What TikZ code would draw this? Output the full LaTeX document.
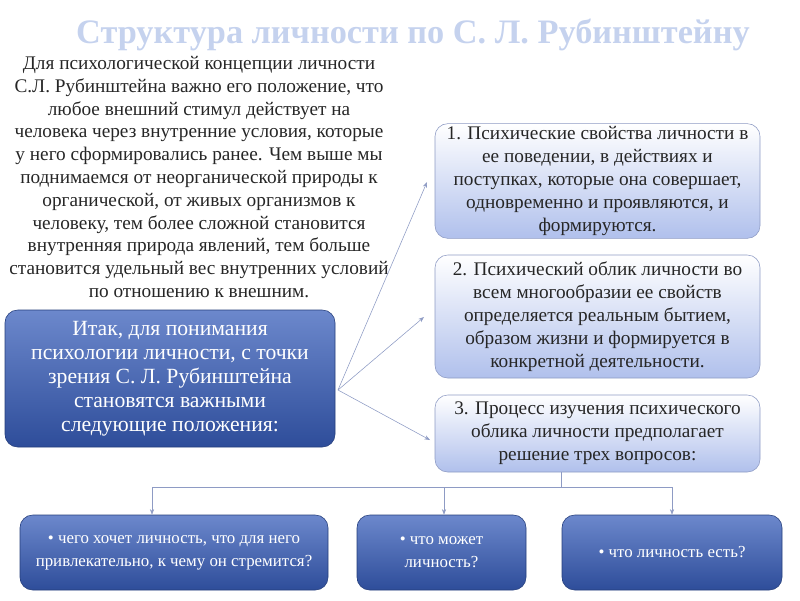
\documentclass[tikz,border=0pt]{standalone}
\usepackage{fontspec}
\setmainfont{Liberation Serif}
\usetikzlibrary{arrows.meta}
\definecolor{titleblue}{HTML}{C5D2EE}
\definecolor{darktop}{HTML}{6C88CC}
\definecolor{darkbot}{HTML}{2E4D9A}
\definecolor{lightbot}{HTML}{B0C0EC}
\definecolor{lineblue}{HTML}{8E9BC4}
\begin{document}
\begin{tikzpicture}
     [x=0.025cm, y=-0.025cm,
     darkbox/.style={rectangle, rounded corners=9pt, draw=darkbot!80!black, top color=darktop, bottom color=darkbot, text=white, align=center, font=\fontsize{15.4}{17}\selectfont, inner sep=2pt},
     lightbox/.style={rectangle, rounded corners=9pt, draw=lineblue, top color=white, bottom color=lightbot, text=black!85, align=center, font=\fontsize{13.7}{16.3}\selectfont, inner sep=2pt},
     smallbox/.style={darkbox, font=\fontsize{12}{16.5}\selectfont},
     link/.style={draw=lineblue, thin, -{Stealth[length=4pt,width=3pt]}},
     ]
  \useasboundingbox (0,0) rectangle (800,600);
  % title and paragraph
  \node[text=titleblue, font=\bfseries\fontsize{24.4}{28}\selectfont] (title) at (413,35) {Структура личности по С. Л. Рубинштейну};
  \node[align=center, text=black!85, font=\fontsize{13.7}{16.2}\selectfont] (intro) at (199,177) {Для психологической концепции личности\\С.Л. Рубинштейна важно его положение, что\\любое внешний стимул действует на\\человека через внутренние условия, которые\\у него сформировались ранее. Чем выше мы\\поднимаемся от неорганической природы к\\органической, от живых организмов к\\человеку, тем более сложной становится\\внутренняя природа явлений, тем больше\\становится удельный вес внутренних условий\\по отношению к внешним.};
  % main boxes
  \node[darkbox, minimum width=330*0.025cm, minimum height=137*0.025cm] (main) at (170,378.5) {Итак, для понимания\\психологии личности, с точки\\зрения С. Л. Рубинштейна\\становятся важными\\следующие положения:};
  \node[lightbox, minimum width=325*0.025cm, minimum height=112*0.025cm] (p1) at (597.5,181) {1. Психические свойства личности в\\ее поведении, в действиях и\\поступках, которые она совершает,\\одновременно и проявляются, и\\формируются.};
  \node[lightbox, minimum width=325*0.025cm, minimum height=123*0.025cm] (p2) at (597.5,316.5) {2. Психический облик личности во\\всем многообразии ее свойств\\определяется реальным бытием,\\образом жизни и формируется в\\конкретной деятельности.};
  \node[lightbox, minimum width=325*0.025cm, minimum height=77*0.025cm] (p3) at (597.5,433.5) {3. Процесс изучения психического\\облика личности предполагает\\решение трех вопросов:};
  % questions
  \node[smallbox, minimum width=308*0.025cm, minimum height=75*0.025cm] (q1) at (174,552.5) {• чего хочет личность, что для него\\привлекательно, к чему он стремится?};
  \node[smallbox, minimum width=169*0.025cm, minimum height=75*0.025cm] (q2) at (441.5,552.5) {• что может\\личность?};
  \node[smallbox, minimum width=220*0.025cm, minimum height=75*0.025cm] (q3) at (672,552.5) {• что личность есть?};
  % connectors
  \coordinate (hub) at (338,390);
  \coordinate (t1) at (427,182);
  \coordinate (t2) at (424,317);
  \coordinate (t3) at (430,440);
  \draw[link] (hub) -- (t1);
  \draw[link] (hub) -- (t2);
  \draw[link] (hub) -- (t3);
  \coordinate (fork) at (561,487);
  \coordinate (f1) at (152,487);
  \coordinate (f2) at (444,487);
  \coordinate (f3) at (672,487);
  \draw[draw=lineblue, thin] (p3.south -| fork) -- (fork);
  \draw[draw=lineblue, thin] (f1) -- (f3);
  \draw[link] (f1) -- (f1 |- q1.north);
  \draw[link] (f2) -- (f2 |- q2.north);
  \draw[link] (f3) -- (f3 |- q3.north);
 \end{tikzpicture}
\end{document}
